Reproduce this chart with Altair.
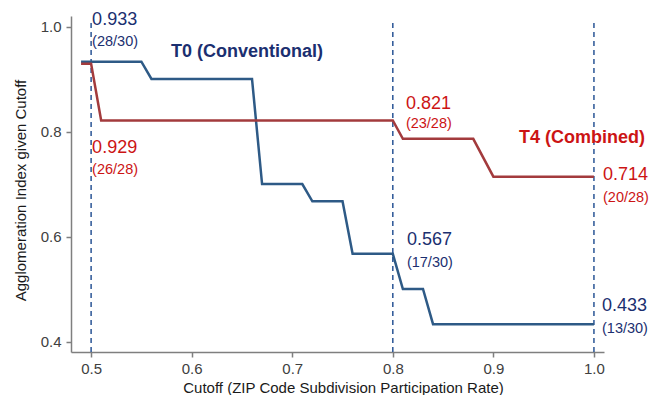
import altair as alt
import pandas as pd

# ---- data ----
t0_x = [0.49, 0.55, 0.56, 0.66, 0.67, 0.71, 0.72, 0.75, 0.76, 0.80, 0.81, 0.83, 0.84, 1.00]
t0_y = [0.933, 0.933, 0.900, 0.900, 0.700, 0.700, 0.667, 0.667, 0.567, 0.567, 0.500, 0.500, 0.433, 0.433]
t4_x = [0.49, 0.50, 0.51, 0.80, 0.81, 0.88, 0.90, 1.00]
t4_y = [0.929, 0.929, 0.821, 0.821, 0.786, 0.786, 0.714, 0.714]
cut_lines = [0.5, 0.8, 1.0]

value_text = ["0.933", "0.929", "0.821", "0.567", "0.714", "0.433"]
frac_text = ["(28/30)", "(26/28)", "(23/28)", "(17/30)", "(20/28)", "(13/30)"]
label_series = ["T0", "T4", "T4", "T0", "T4", "T0"]
label_x = [0.501, 0.501, 0.813, 0.814, 1.009, 1.008]
value_y = [1.013, 0.768, 0.853, 0.594, 0.718, 0.467]
frac_y = [0.971, 0.726, 0.814, 0.550, 0.673, 0.423]

series_names = ["T0 (Conventional)", "T4 (Combined)"]
series_keys = ["T0", "T4"]
series_x = [0.5795, 0.9254]
series_y = [0.952, 0.787]

x_ticks = [0.5, 0.6, 0.7, 0.8, 0.9, 1.0]
y_ticks = [0.4, 0.6, 0.8, 1.0]

# ---- tables ----
lines_df = pd.DataFrame(
    {"cutoff": t0_x + t4_x,
     "value": t0_y + t4_y,
     "series": ["T0"] * len(t0_x) + ["T4"] * len(t4_x),
     "order": list(range(len(t0_x))) + list(range(len(t4_x)))}
)
cut_df = pd.DataFrame({"cut": cut_lines})
lab_df = pd.DataFrame({"series": label_series, "x": label_x, "vy": value_y,
                       "fy": frac_y, "vt": value_text, "ft": frac_text})
name_df = pd.DataFrame({"series": series_keys, "x": series_x, "y": series_y, "name": series_names})

xs = alt.Scale(domain=[0.48, 1.01], nice=False, zero=False)
ys = alt.Scale(domain=[0.38, 1.02], nice=False, zero=False)

line_colors = alt.Scale(domain=series_keys, range=["#2e5a86", "#a33b3d"])
text_colors = alt.Scale(domain=series_keys, range=["#1b2f70", "#cc1414"])

base_x = alt.X("cutoff:Q", scale=xs,
               axis=alt.Axis(values=x_ticks, format=".1f", labelPadding=4,
                             title="Cutoff (ZIP Code Subdivision Participation Rate)",
                             titleX=272, titleY=40, titleBaseline="alphabetic",
                             titleAlign="center"))
base_y = alt.Y("value:Q", scale=ys,
               axis=alt.Axis(values=y_ticks, format=".1f",
                             title="Agglomeration Index given Cutoff",
                             titleX=-51, titleY=174, titleBaseline="middle",
                             titleAlign="center", titleAngle=-90))

rules = alt.Chart(cut_df).mark_rule(color="#2a5596", strokeWidth=1.5, strokeDash=[5, 4]).encode(
    x=alt.X("cut:Q", scale=xs),
    y=alt.datum(0.38),
    y2=alt.datum(1.012),
)

lines = alt.Chart(lines_df).mark_line(strokeWidth=2.5).encode(
    x=base_x,
    y=base_y,
    color=alt.Color("series:N", scale=line_colors, legend=None),
    order="order:Q",
)

vals = alt.Chart(lab_df).mark_text(align="left", baseline="middle", fontSize=18,
                                   font="Liberation Sans").encode(
    x=alt.X("x:Q", scale=xs),
    y=alt.Y("vy:Q", scale=ys),
    text="vt:N",
    color=alt.Color("series:N", scale=text_colors, legend=None),
)
fracs = alt.Chart(lab_df).mark_text(align="left", baseline="middle", fontSize=14.5,
                                    font="Liberation Sans").encode(
    x=alt.X("x:Q", scale=xs),
    y=alt.Y("fy:Q", scale=ys),
    text="ft:N",
    color=alt.Color("series:N", scale=text_colors, legend=None),
)
names = alt.Chart(name_df).mark_text(align="left", baseline="middle", fontSize=18,
                                     fontWeight="bold", font="Liberation Sans").encode(
    x=alt.X("x:Q", scale=xs),
    y=alt.Y("y:Q", scale=ys),
    text="name:N",
    color=alt.Color("series:N", scale=text_colors, legend=None),
)

chart = alt.layer(rules, lines, vals, fracs, names).resolve_scale(
    color="independent"
).properties(
    width=533,
    height=336,
    background="white",
    autosize=alt.AutoSizeParams(type="none"),
    padding={"left": 63, "top": 8, "right": 45, "bottom": 43},
).configure_view(
    stroke=None
).configure_axis(
    grid=False,
    domainColor="#7f7f7f",
    domainWidth=1.5,
    tickColor="#7f7f7f",
    tickWidth=1.5,
    tickSize=5,
    labelColor="#404040",
    labelFont="Liberation Sans",
    labelFontSize=15,
    labelPadding=5,
    titleFont="Liberation Sans",
    titleFontSize=15,
    titleFontWeight="normal",
    titleColor="#1a1a1a",
)

chart.save("out.html", embed_options={"renderer": "svg", "actions": False})
